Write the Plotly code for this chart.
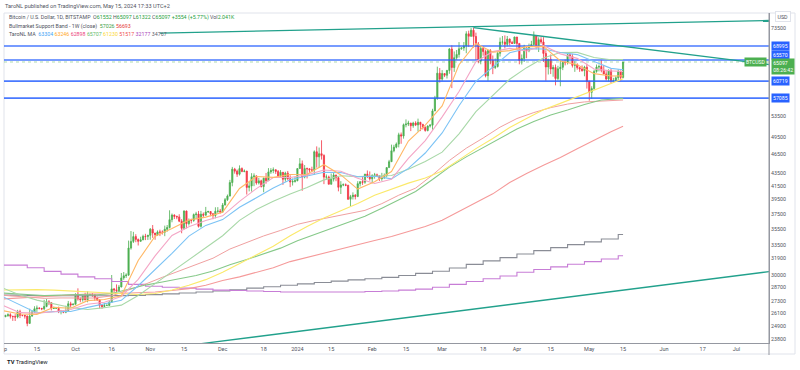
import math
import pandas as pd
import plotly.graph_objects as go

# ---------------- data ----------------
dates = pd.date_range("2023-09-01", "2024-05-15", freq="D")

opens = [
 25940,25800,25870,25970,25830,25790,25750,26240,25910,25900,25840,25160,25840,26230,26530,26600,26570,26530,26760,27210,27130,26570,26580,26580,26250,26300,26210,26350,27020,26910,
 26970,27980,27500,27430,27780,27410,27930,27950,27920,27590,27390,26870,26760,26860,26860,27160,28520,28420,28330,28720,29680,29920,29990,33090,33900,34500,34150,33910,34090,34530,34500,
 34660,35440,34950,34730,35090,35050,35050,35430,35650,36690,37310,37130,37060,36490,35550,37860,36160,36590,36580,37370,37450,35810,37420,37290,37730,37790,37480,37240,37830,37850,
 37720,38690,39460,39970,41990,44090,43770,43290,44180,43720,43790,41250,41480,42890,43020,41930,42250,41380,42660,42270,43650,43870,43990,43730,43020,43590,42500,43450,42590,42070,42140,
 42280,44180,44950,42850,44180,44150,43970,43940,46970,46110,46640,46350,42830,42850,41730,42510,43150,42740,41270,41620,41660,41570,39520,39890,40100,39930,41820,42120,42040,43300,42950,
 42580,43080,43190,43000,42580,42700,43090,44340,45300,47130,47760,48290,49950,49730,51810,51940,52130,51640,52140,51780,52270,51850,51300,50740,51570,51730,54480,57070,62500,
 61170,62430,62030,63130,68250,63800,66110,66920,68300,68500,69020,72120,71480,73070,71420,69500,65300,68390,67620,61930,67850,65490,63800,64050,67200,69980,69990,69420,70750,69880,69650,
 71300,69650,65470,65950,68500,67830,68900,69360,71620,69140,70600,70010,67150,63930,65750,63460,63800,61300,63500,63850,64970,64950,66850,66400,64300,64500,63780,63450,63100,63870,
 60650,58300,59100,62900,63900,64030,63170,62330,61190,63070,60800,60830,61470,62930,61552]
highs = [
 26130,25970,26100,26110,25850,26020,26430,26440,25940,25950,25880,26540,26390,26780,26850,26680,26620,27410,27490,27380,27160,26740,26630,26740,26420,26390,26830,27300,27220,27080,
 28060,28580,27660,27830,28120,28270,28020,28100,27990,27740,27480,26950,27100,26970,27290,30000,28620,28990,28930,30220,30330,30190,34000,35200,35100,34800,34250,34480,34740,34850,34720,
 35590,35980,34950,35280,35380,35290,35900,35980,37960,37520,37400,37220,37420,36760,37960,37920,36850,36820,37520,37750,37870,37880,37660,38430,37900,37830,37590,38380,38400,38150,
 38980,39700,40200,42400,44450,44290,44020,44700,44370,44040,43790,42080,43450,43420,43090,42700,42430,42740,43480,44250,44240,44370,44030,43950,43940,43620,43680,43800,43120,42600,42890,
 44200,45900,45500,44750,44340,44210,44480,47200,47890,47690,48970,46520,43250,43060,43390,43590,43200,42900,42200,41860,41860,41650,40150,40520,40270,42200,42200,42840,43320,43870,43720,
 43280,43490,43380,43110,43500,43400,44370,45600,48200,48170,48580,50330,50370,52040,52830,52570,52180,52380,52480,52980,52370,52010,51520,51700,51950,54910,57560,64000,63680,
 63200,62440,63250,68500,69170,67640,68000,69990,68670,70000,72800,72950,73650,73750,72430,70000,68920,68950,68100,68100,68230,66650,65940,67600,71150,71550,71700,71550,70900,70300,71360,
 71300,69650,66900,69300,68700,69600,70300,72750,71750,71200,71250,71250,67930,65850,66900,64350,64500,64200,65500,65400,65700,67200,67200,67050,65300,64800,63900,64300,64200,64700,
 60850,59600,63300,64500,64500,65500,64400,62950,63400,63450,61450,61800,63400,63100,65097]
lows = [
 25330,25720,25780,25610,25390,25380,25620,25650,25810,25600,24900,25140,25770,26140,26230,26480,26400,26400,26680,26890,26370,26510,26510,26120,26000,26110,26110,26340,26700,26890,
 26950,27330,27170,27230,27360,27170,27850,27700,27300,27290,26560,26540,26690,26820,26820,27120,28110,28170,28180,28690,29480,29680,29900,32900,33700,33800,33400,33870,34060,34060,34080,
 34110,34340,34100,34570,34560,34750,34550,35120,35540,36340,36770,36750,36360,34920,35380,35550,35910,36190,36400,36730,35650,35650,36900,37250,37600,37150,36750,36870,37600,37510,
 37640,38650,39270,39970,41420,43370,42860,43080,43600,43590,40200,40660,40630,41440,41670,41700,41250,40540,41820,42230,43340,43440,43330,42800,42770,41630,42120,42330,41300,41540,41990,
 42180,44190,40750,42640,42630,43420,43600,43190,44330,44300,45650,41750,42440,41720,41720,42150,42200,40670,40280,41440,41440,39430,38550,39480,39490,39820,41390,41630,41800,42680,42290,
 41880,42580,42890,42230,42260,42580,42780,44340,45250,46870,47560,47720,48350,49260,51330,51570,50630,51250,51570,50540,50630,50920,50520,50580,51290,50880,54460,56730,60400,
 60800,61620,61300,62370,59200,62800,65600,66150,68060,67800,67200,68800,71350,68600,65600,64800,64550,66600,61560,60780,64560,62280,63440,63800,66400,69300,68400,68900,69100,69500,69600,
 68150,64550,64500,65090,66000,67450,68800,69100,68200,67500,69550,65100,60800,62200,62300,61700,59800,60850,59600,63200,64300,64500,65800,63800,62800,63300,62800,62830,61800,59100,
 56550,56950,58800,62600,62900,62700,62250,60850,60650,60250,60500,60650,60800,60700,61322]
closes = [
 25800,25870,25970,25830,25790,25750,26240,25910,25900,25840,25160,25840,26230,26530,26600,26570,26530,26760,27210,27130,26570,26580,26580,26250,26300,26210,26350,27020,26910,26970,
 27980,27500,27430,27780,27410,27930,27950,27920,27590,27390,26870,26760,26860,26860,27160,28520,28420,28330,28720,29680,29920,29990,33090,33900,34500,34150,33910,34090,34530,34500,34660,
 35440,34950,34730,35090,35050,35050,35430,35650,36690,37310,37130,37060,36490,35550,37860,36160,36590,36580,37370,37450,35810,37420,37290,37730,37790,37480,37240,37830,37850,37720,
 38690,39460,39970,41990,44090,43770,43290,44180,43720,43790,41250,41480,42890,43020,41930,42250,41380,42660,42270,43650,43870,43990,43730,43020,43590,42500,43450,42590,42070,42140,42280,
 44180,44950,42850,44180,44150,43970,43940,46970,46110,46640,46350,42830,42850,41730,42510,43150,42740,41270,41620,41660,41570,39520,39890,40100,39930,41820,42120,42040,43300,42950,42580,
 43080,43190,43000,42580,42700,43090,44340,45300,47130,47760,48290,49950,49730,51810,51940,52130,51640,52140,51780,52270,51850,51300,50740,51570,51730,54480,57070,62500,61170,
 62430,62030,63130,68250,63800,66110,66920,68300,68500,69020,72120,71480,73070,71420,69500,65300,68390,67620,61930,67850,65490,63800,64050,67200,69980,69990,69420,70750,69880,69650,71300,
 69650,65470,65950,68500,67830,68900,69360,71620,69140,70600,70010,67150,63930,65750,63460,63800,61300,63500,63850,64970,64950,66850,66400,64300,64500,63780,63450,63100,63870,60650,
 58300,59100,62900,63900,64030,63170,62330,61190,63070,60800,60830,61470,62930,61552,65097]

# moving averages read at weekly points
ma_dates = ["2023-09-01","2023-09-08","2023-09-15","2023-09-22","2023-09-29","2023-10-06","2023-10-13",
            "2023-10-20","2023-10-27","2023-11-03","2023-11-10","2023-11-17","2023-11-24","2023-12-01",
            "2023-12-08","2023-12-15","2023-12-22","2023-12-29","2024-01-05","2024-01-12","2024-01-19",
            "2024-01-26","2024-02-02","2024-02-09","2024-02-16","2024-02-23","2024-03-01","2024-03-08",
            "2024-03-15","2024-03-22","2024-03-29","2024-04-05","2024-04-12","2024-04-19","2024-04-26",
            "2024-05-03","2024-05-10","2024-05-15"]
ma_orange = [26350,26040,26000,26670,26590,27330,27450,27820,31620,34550,35540,36650,37030,37700,
             41100,42930,42790,43250,43280,44800,43170,41010,42110,43700,48840,51760,55480,64460,
             69640,67440,67840,68840,68910,65340,64440,62400,61880,61900]
ma_pink = [26860,26160,26120,26250,26460,26970,27170,27750,29530,32160,34640,35750,36580,37200,
           39220,41080,42770,42770,43180,43940,43760,42660,41840,42510,45840,48920,53330,58480,
           65150,67600,68410,67740,69120,67050,65960,63440,63030,62900]
ma_blue = [27710,26890,26140,26260,26270,26670,27020,27360,28850,30560,32460,34560,35930,36700,
           38390,39730,41150,42410,43040,43590,43540,42890,42960,42560,44210,46750,50290,55510,
           60680,63900,67300,68340,68260,67380,66870,65200,63610,63300]
ma_green = [28600,27890,27380,27030,26650,26470,26640,26890,27850,29080,30340,31750,33120,34600,
            36600,38060,39220,40290,41230,42400,43040,42900,42960,43080,44060,45320,46900,50130,
            54340,57590,61130,63770,66050,67370,67410,66180,65630,65700]
ma_yellow = [28400,28450,28450,28400,28300,28200,28100,28000,27950,28050,28400,28900,29500,30300,
             31300,32300,33300,34600,35800,36900,37900,38900,40100,41000,41900,42700,43800,45600,
             47500,49300,51300,53000,54700,56000,57400,58800,60200,61230]
ma_red = [27500,27600,27700,27800,27900,28000,28000,28050,28100,28200,28350,28550,28900,29400,
          29800,30300,30800,31500,32000,32500,33000,33500,34000,34500,35100,35800,36600,37800,
          39000,40300,42000,43400,44700,46000,47500,49000,50500,51517]

# weekly (1W) series, one value per week starting Monday
wk_dates = ["2023-08-28","2023-09-04","2023-09-11","2023-09-18","2023-09-25","2023-10-02","2023-10-09",
            "2023-10-16","2023-10-23","2023-10-30","2023-11-06","2023-11-13","2023-11-20","2023-11-27",
            "2023-12-04","2023-12-11","2023-12-18","2023-12-25","2024-01-01","2024-01-08","2024-01-15",
            "2024-01-22","2024-01-29","2024-02-05","2024-02-12","2024-02-19","2024-02-26","2024-03-04",
            "2024-03-11","2024-03-18","2024-03-25","2024-04-01","2024-04-08","2024-04-15","2024-04-22",
            "2024-04-29","2024-05-06","2024-05-13","2024-05-15"]
band_sma = [28160,28080,27940,27830,27890,27950,27900,28050,28480,28920,29240,29580,29950,30440,
            31130,31740,32430,33080,33980,34760,35540,36350,37150,38260,39460,40660,42450,44410,
            46100,47710,49420,51020,52430,53680,54650,55780,56700,57026,57026]
band_ema = [28000,27800,27690,27560,27600,27630,27590,27810,28420,29020,29750,30440,31080,31890,
            32970,33740,34580,35280,36070,36580,37040,37490,37950,38890,40100,41150,43150,45500,
            47580,49370,51360,53000,54160,55140,55860,56300,56500,56693,56693]
wk_purple = [31100,31100,30800,30400,30100,29800,29600,29300,29000,28800,28700,28600,28500,28400,
             28350,28300,28250,28200,28200,28200,28200,28200,28250,28300,28400,28500,28700,29000,
             29300,29600,29900,30300,30600,30900,31200,31500,31800,32177,32177]
wk_gray = [27900,27880,27850,27830,27820,27820,27820,27830,27860,27930,28010,28100,28200,28300,
           28430,28600,28750,28900,29050,29200,29340,29470,29600,29740,29950,30180,30420,30780,
           31180,31580,31960,32380,32780,33140,33500,33840,34200,34767,34767]

# horizontal levels and trend lines
levels = [68995, 65570, 60719, 57085]
last_price = 65097
top_line_x = ["2023-11-05", "2024-07-14 12:00"]
top_line_y = [72300, 75700]
desc_line_x = ["2024-03-14", "2024-07-14 12:00"]
desc_line_y = [73750, 64500]
low_line_x = ["2023-10-11", "2024-07-14 12:00"]
low_line_y = [22300, 30370]

y_ticks = [73500, 53500, 49500, 46500, 43500, 41500, 39500, 37500, 35500, 33500, 31900, 30000,
           28700, 27300, 26100, 24900, 23800]
x_tick_dates = ["2023-09-15","2023-10-01","2023-10-16","2023-11-01","2023-11-15","2023-12-01",
                "2023-12-18","2024-01-01","2024-01-15","2024-02-01","2024-02-15","2024-03-01",
                "2024-03-18","2024-04-01","2024-04-15","2024-05-01","2024-05-15","2024-06-01",
                "2024-06-17","2024-07-01"]
x_tick_text = ["15","Oct","16","Nov","15","Dec","18","2024","15","Feb","15","Mar","18","Apr",
               "15","May","15","Jun","17","Jul"]

# ---------------- figure ----------------
UP, DOWN = "#4caf50", "#f23645"
X0, X1 = "2023-09-01 08:40", "2024-07-14 12:00"
fig = go.Figure()

def line(x, y, color, width=1.0, shape="linear", dash="solid"):
    fig.add_trace(go.Scatter(x=x, y=y, mode="lines", line=dict(color=color, width=width, shape=shape, dash=dash),
                             hoverinfo="skip", showlegend=False))

for lv in levels:
    line([X0, X1], [lv, lv], "rgba(41,98,255,0.85)", 1.6)
line([X0, X1], [last_price, last_price], "rgba(76,175,80,0.45)", 1, dash="dot")

line(wk_dates, wk_gray, "#8a8d96", 1.1, shape="hv")
line(wk_dates, wk_purple, "#c77dd6", 1.1, shape="hv")
line(ma_dates, ma_red, "#f59a9a", 1.1)
line(wk_dates, band_ema, "#f0a0a0", 1.0)
line(wk_dates, band_sma, "#86c989", 1.1)
line(ma_dates, ma_yellow, "#fbe96a", 1.1)
line(ma_dates, ma_green, "#a8d8a8", 1.1)
line(ma_dates, ma_blue, "#7cc3f5", 1.1)
line(ma_dates, ma_pink, "#f4a6c6", 1.1)
line(ma_dates, ma_orange, "#ffb866", 1.1)

fig.add_trace(go.Candlestick(
    x=dates, open=opens, high=highs, low=lows, close=closes,
    increasing=dict(line=dict(color=UP, width=0.8), fillcolor=UP),
    decreasing=dict(line=dict(color=DOWN, width=0.8), fillcolor=DOWN),
    whiskerwidth=0, hoverinfo="skip", showlegend=False))

TEAL = "#22a18c"
line(top_line_x, top_line_y, TEAL, 1.3)
line(desc_line_x, desc_line_y, TEAL, 1.3)
line(low_line_x, low_line_y, TEAL, 1.3)

FONT = "Roboto, Liberation Sans, Arial, sans-serif"
L, W, T, H = 4, 765, 13, 330
def px(xp): return (xp - L) / W
def py(yp): return (T + H - yp) / H

fig.update_layout(
    width=800, height=370, margin=dict(l=L, r=800 - L - W, t=T, b=370 - T - H, autoexpand=False),
    paper_bgcolor="white", plot_bgcolor="white", showlegend=False, hovermode=False,
    font=dict(family=FONT, size=5.5, color="#50535e"),
    xaxis=dict(type="date", range=[X0, X1], rangeslider=dict(visible=False), showgrid=False,
               zeroline=False, tickvals=x_tick_dates, ticktext=x_tick_text, ticks="", automargin=False,
               showline=True, linecolor="#9598a1", linewidth=1, tickfont=dict(size=5.5, color="#50535e")),
    yaxis=dict(type="log", range=[4.36974, 4.89094], side="right", showgrid=False, zeroline=False,
               tickvals=y_ticks, ticktext=[str(v) for v in y_ticks], ticks="", automargin=False,
               showline=True, linecolor="#9598a1", linewidth=1, tickfont=dict(size=5.3, color="#50535e")),
)

shapes = [
    dict(type="rect", xref="paper", yref="paper", x0=0, x1=px(795), y0=py(354), y1=1,
         line=dict(color="#e0e3eb", width=1), fillcolor="rgba(0,0,0,0)", layer="below"),
    dict(type="line", xref="paper", yref="paper", x0=1, x1=1, y0=py(355), y1=1,
         line=dict(color="#9598a1", width=1)),
]
fig.update_layout(shapes=shapes)

ann = []
def a(x, y, text, **kw):
    d = dict(x=x, y=y, xref="paper", yref="paper", text=text, showarrow=False,
             xanchor="left", yanchor="middle", font=dict(size=5.3, color="#50535e", family=FONT))
    d.update(kw)
    ann.append(d)

G = "#26a03c"
def c(col, t): return f'<span style="color:{col}">{t}</span>'
sp = "\u00a0"
a(px(3), py(6), "TaroNL published on TradingView.com, May 15, 2024 17:33 UTC+2", font=dict(size=5.6, color="#50535e", family=FONT))
a(px(7), py(18), "Bitcoin / U.S. Dollar, 1D, BITSTAMP" + sp * 2 + "O" + c(G, "61552") + sp + "H" + c(G, "65097") + sp +
  "L" + c(G, "61322") + sp + "C" + c(G, "65097") + sp + c(G, "+3554 (+5.77%)") + sp + "Vol" + c(G, "2.041K"))
a(px(7), py(26), "Bullmarket Support Band - 1W (close)" + sp * 2 + c("#43a047", "57026") + sp + c("#e53935", "56693"))
a(px(7), py(34), "TaroNL MA" + sp * 2 + c("#42a5f5", "63304") + sp + c("#ffa726", "63246") + sp + c("#ec407a", "62898") + sp +
  c("#66bb6a", "65707") + sp + c("#fdd835", "61230") + sp + c("#ef5350", "51517") + sp + c("#ab47bc", "32177") + sp +
  c("#5d606b", "34767"))
a(px(5), py(362), "<b>TV</b> TradingView", font=dict(size=5.8, color="#131722", family=FONT))
a(px(2), py(349), "p", font=dict(size=5.5, color="#50535e", family=FONT))
a(px(783), py(17), "USD", xanchor="center", bordercolor="#e0e3eb", borderwidth=1, borderpad=1.5,
  bgcolor="white", font=dict(size=5.3, color="#50535e", family=FONT))

shift = {65570: 5.5}
for lv in levels:
    ann.append(dict(x=px(771), y=math.log10(lv), xref="paper", yref="y", text=str(lv), showarrow=False,
                    xanchor="left", yanchor="middle", yshift=shift.get(lv, 0), bgcolor="#2962ff",
                    borderpad=1, font=dict(size=5.2, color="white", family=FONT)))
ann.append(dict(x=px(771), y=math.log10(last_price), xref="paper", yref="y",
                text="65097<br>08:26:42", showarrow=False, xanchor="left", yanchor="top", yshift=4,
                bgcolor=UP, borderpad=1.2, align="left", font=dict(size=5.2, color="white", family=FONT)))
ann.append(dict(x=px(767), y=math.log10(last_price), xref="paper", yref="y", text="BTCUSD",
                showarrow=False, xanchor="right", yanchor="middle", bgcolor=UP, borderpad=1,
                font=dict(size=5, color="white", family=FONT)))
fig.update_layout(annotations=ann)

fig.write_html("out.html", config={"displayModeBar": False, "staticPlot": True},
               post_script="document.body.style.margin='0px';document.body.style.padding='0px';")
